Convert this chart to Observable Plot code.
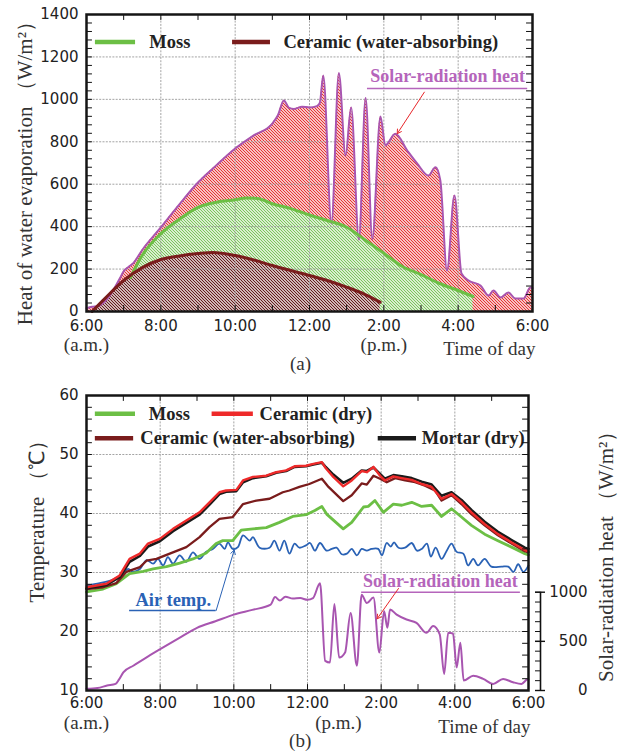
<!DOCTYPE html>
<html><head><meta charset="utf-8">
<script src="https://cdn.jsdelivr.net/npm/d3@7"></script>
<script src="https://cdn.jsdelivr.net/npm/@observablehq/plot@0.6"></script>
<style>
body{margin:0;background:#fff;}
#wrap{width:619px;}
#wrap svg{display:block;}
</style></head><body><div id="wrap"></div>
<script>
// ---------- shared axis labels (hours after 6:00 a.m.) ----------
const xTicks = [0, 2, 4, 6, 8, 10, 12];
const xTickLabels = ["6:00", "8:00", "10:00", "12:00", "2:00", "4:00", "6:00"];
const hourTicks = [0,1,2,3,4,5,6,7,8,9,10,11,12];

// ---------- panel (a): heat of water evaporation, W/m2 ----------
const yTicksA = [0, 200, 400, 600, 800, 1000, 1200, 1400];
const solarA = [[0,15],[0.15,22],[0.3,25],[0.45,40],[0.7,95],[0.91,160],[1.0,190],[1.13,210],[1.26,228],[1.5,290],[2.0,396],[2.5,505],[3.0,608],[3.5,690],[4.0,768],[4.5,830],[5.0,886],[5.15,925],[5.31,995],[5.45,960],[5.58,955],[5.8,965],[6.0,962],[6.2,968],[6.28,985],[6.37,1113],[6.59,415],[6.79,1124],[6.97,735],[7.12,962],[7.33,339],[7.51,1006],[7.69,342],[7.91,919],[8.04,783],[8.31,838],[8.63,759],[8.90,697],[9.20,641],[9.39,680],[9.52,618],[9.70,193],[9.90,547],[10.09,179],[10.28,146],[10.60,123],[10.82,75],[10.95,99],[11.14,66],[11.35,90],[11.54,61],[11.76,61],[11.94,113],[12,110]];
const mossA = [[1.18,160],[1.5,265],[2.0,367],[2.5,435],[3.0,491],[3.5,515],[4.0,527],[4.3,535],[4.6,533],[5.0,508],[5.5,485],[6.0,455],[6.5,428],[7.0,397],[7.5,337],[8.0,275],[8.5,212],[9.0,174],[9.5,132],[10.0,99],[10.4,71]];
const ceramicWetA = [[0.15,0],[0.5,62],[1.0,146],[1.5,207],[2.0,245],[2.5,262],[3.0,273],[3.4,278],[4.0,264],[4.5,243],[5.0,217],[5.5,193],[6.0,170],[6.5,145],[7.0,115],[7.5,80],[7.9,44]];

// ---------- panel (b): temperatures (°C) and solar-radiation heat (W/m2) ----------
const yTicksB = [10, 20, 30, 40, 50, 60];
const solarTicksB = [0, 500, 1000];
const solarMinorB = [0,100,200,300,400,500,600,700,800,900,1000];
const mossB = [[0,26.7],[0.45,27.2],[0.81,28.1],[1.17,29.8],[1.54,30.2],[1.81,30.6],[2.17,31.0],[2.53,31.6],[2.89,32.3],[3.25,33.3],[3.52,34.9],[3.70,35.4],[3.97,35.4],[4.20,37.2],[4.52,37.4],[4.88,37.6],[5.24,38.5],[5.60,39.5],[5.96,39.8],[6.20,40.5],[6.39,41.2],[6.52,39.9],[6.97,37.4],[7.20,38.5],[7.52,41.1],[7.65,41.2],[7.83,42.2],[8.06,40.2],[8.33,41.6],[8.56,41.4],[8.83,41.9],[9.10,41.2],[9.37,41.4],[9.64,39.5],[9.91,40.8],[10.18,39.4],[10.45,38.0],[10.81,36.5],[11.17,35.4],[11.54,34.3],[11.90,33.2],[12,33.0]];
const ceramicDryB = [[0,27.5],[0.54,28.1],[0.9,29.5],[1.17,32.3],[1.45,33.2],[1.67,34.9],[1.99,35.7],[2.35,37.4],[2.71,38.8],[3.07,40.2],[3.34,41.9],[3.61,43.6],[3.79,43.9],[4.07,44.0],[4.25,45.6],[4.52,46.2],[4.88,46.4],[5.15,47.0],[5.42,47.3],[5.65,48.0],[5.96,48.1],[6.16,48.4],[6.39,48.7],[6.48,47.8],[6.70,46.2],[6.97,44.6],[7.20,45.6],[7.47,47.2],[7.61,47.0],[7.79,47.9],[7.97,46.4],[8.10,45.6],[8.33,46.3],[8.56,46.0],[8.83,45.7],[9.10,45.0],[9.37,44.5],[9.64,42.5],[9.91,43.3],[10.18,41.9],[10.45,40.2],[10.81,38.2],[11.17,36.5],[11.54,35.1],[11.90,33.8],[12,33.6]];
const mortarDryB = [[0,27.3],[0.54,27.9],[0.9,29.2],[1.17,31.8],[1.45,32.8],[1.67,34.4],[1.99,35.3],[2.35,37.0],[2.71,38.4],[3.07,39.8],[3.34,41.5],[3.61,43.3],[3.79,43.7],[4.07,43.8],[4.25,45.3],[4.52,46.0],[4.88,46.3],[5.15,46.9],[5.42,47.2],[5.65,47.9],[5.96,48.0],[6.16,48.3],[6.39,48.6],[6.48,48.0],[6.70,46.6],[6.97,45.2],[7.20,45.9],[7.47,47.3],[7.61,47.2],[7.79,47.8],[7.97,46.7],[8.10,45.9],[8.33,46.5],[8.56,46.3],[8.83,46.0],[9.10,45.4],[9.37,44.9],[9.64,43.0],[9.91,43.6],[10.18,42.3],[10.45,40.6],[10.81,38.6],[11.17,36.9],[11.54,35.5],[11.90,34.2],[12,34.0]];
const ceramicWetB = [[0,27.2],[0.45,27.5],[0.81,28.2],[1.08,30.1],[1.45,30.9],[1.63,32.0],[1.9,32.3],[2.26,33.2],[2.71,34.3],[3.07,36.0],[3.34,37.7],[3.61,39.1],[3.97,39.4],[4.25,41.6],[4.61,42.2],[4.97,42.5],[5.33,43.6],[5.51,43.9],[5.78,44.5],[6.05,45.0],[6.39,45.9],[6.57,44.5],[6.97,42.1],[7.20,43.1],[7.47,45.1],[7.61,44.9],[7.79,46.4],[7.97,45.9],[8.15,45.3],[8.38,46.0],[8.65,45.6],[8.92,45.3],[9.19,44.7],[9.46,43.9],[9.64,42.2],[9.91,43.1],[10.18,41.6],[10.45,39.9],[10.81,38.0],[11.17,36.3],[11.54,34.9],[11.90,33.6],[12,33.4]];
const airB = [[0,27.8],[0.36,28.2],[0.72,28.8],[0.99,29.8],[1.13,30.6],[1.26,30.1],[1.45,30.6],[1.63,32.1],[1.81,31.5],[1.94,32.3],[2.08,31.2],[2.21,32.6],[2.35,31.5],[2.53,32.9],[2.71,31.8],[2.89,33.4],[3.07,32.3],[3.25,33.5],[3.43,34.0],[3.61,34.9],[3.75,34.0],[3.84,35.1],[3.97,34.0],[4.11,34.3],[4.25,36.3],[4.43,35.4],[4.52,36.0],[4.70,34.2],[4.97,34.2],[5.10,35.4],[5.24,33.7],[5.37,35.4],[5.51,33.2],[5.65,34.9],[5.78,34.2],[5.96,34.6],[6.07,35.0],[6.20,33.7],[6.34,35.0],[6.52,33.7],[6.66,34.0],[6.79,34.2],[6.93,33.1],[7.07,33.2],[7.20,34.0],[7.34,32.9],[7.47,34.0],[7.61,33.7],[7.74,34.0],[7.92,34.0],[8.02,32.9],[8.15,35.0],[8.26,34.4],[8.35,35.1],[8.47,34.2],[8.65,34.2],[8.83,35.0],[8.97,33.7],[9.10,34.0],[9.24,34.9],[9.35,32.7],[9.48,34.2],[9.64,32.3],[9.78,33.7],[9.91,34.9],[10.05,33.5],[10.23,33.2],[10.36,31.2],[10.50,32.3],[10.63,31.2],[10.81,32.3],[10.99,31.0],[11.27,31.0],[11.45,31.0],[11.59,30.1],[11.72,31.4],[11.86,30.1],[12,31.2]];
const solarB = [[0,17],[0.3,25],[0.56,50],[0.79,67],[0.88,110],[1.0,184],[1.27,252],[1.6,330],[2.0,420],[2.5,530],[3.0,638],[3.5,705],[4.0,772],[4.5,820],[5.0,873],[5.12,950],[5.25,915],[5.4,955],[5.6,935],[5.8,940],[6.0,923],[6.15,940],[6.34,1090],[6.48,302],[6.61,285],[6.73,879],[6.86,335],[7.02,386],[7.17,789],[7.34,252],[7.47,974],[7.61,889],[7.79,947],[7.95,386],[8.08,806],[8.17,638],[8.24,823],[8.42,772],[8.69,722],[8.96,688],[9.23,587],[9.41,655],[9.59,571],[9.71,168],[9.82,587],[9.95,580],[10.05,235],[10.15,486],[10.24,101],[10.50,151],[10.77,118],[11.04,67],[11.31,118],[11.58,84],[11.81,67],[11.97,111],[12,111]];

// ---------- styling ----------
const serif = "'Liberation Serif', 'Times New Roman', serif";
const sans = "'DejaVu Sans', sans-serif";
const C = {moss:"#6cbf45", wet:"#7a1c1c", dry:"#ee2a2a", mortar:"#1a1a1a", air:"#2a62b5", solar:"#a855b0", solarText:"#b565bb", gridc:"#9a9a9a", ink:"#222"};
const pt = a => ({h: a[0], v: a[1]});
const grid = {stroke: C.gridc, strokeWidth: 0.9, strokeDasharray: "2,1.3"};
const lab = {fontFamily: serif, fontSize: 19, fill: "#333", textAnchor: "middle", lineAnchor: "middle"};
const ylab = {...lab, fontSize: 21};
const leg = {fontFamily: serif, fontSize: 18.5, fontWeight: "bold", fill: C.ink, textAnchor: "start", lineAnchor: "middle"};
const wrap = document.getElementById("wrap");

// ================= PANEL A =================
const tA = 28; // tick length in W/m2 (~6px)
const tX = 0.16; // tick length in hours (~6px)
const minorA = d3.range(40, 1400, 40);
const plotA = Plot.plot({
  width: 619, height: 375,
  marginLeft: 86, marginRight: 87, marginTop: 14, marginBottom: 64,
  style: {fontFamily: sans, fontSize: "15px", color: C.ink, background: "white"},
  x: {domain: [0, 12], ticks: xTicks, tickFormat: d => xTickLabels[xTicks.indexOf(d)], tickSize: 0, tickPadding: 9, label: null},
  y: {domain: [0, 1400], ticks: yTicksA, tickFormat: d => String(d), tickSize: 0, tickPadding: 8, label: null},
  marks: [
    Plot.areaY(solarA.map(pt), {x: "h", y: "v", fill: "url(#hatchRed)", curve: "monotone-x"}),
    Plot.areaY(mossA.map(pt), {x: "h", y: "v", fill: "url(#hatchGreen)", curve: "monotone-x"}),
    Plot.areaY(ceramicWetA.map(pt), {x: "h", y: "v", fill: "url(#hatchDark)", curve: "monotone-x"}),
    Plot.ruleX([2,4,6,8,10], grid),
    Plot.ruleY([200,400,600,800,1000,1200], grid),
    Plot.line(solarA.map(pt), {x: "h", y: "v", stroke: C.solar, strokeWidth: 2, curve: "monotone-x"}),
    Plot.line(mossA.map(pt), {x: "h", y: "v", stroke: C.moss, strokeWidth: 3, curve: "monotone-x"}),
    Plot.line(ceramicWetA.map(pt), {x: "h", y: "v", stroke: C.wet, strokeWidth: 3, curve: "monotone-x"}),
    // legend
    Plot.ruleY([1270], {x1: 0.24, x2: 1.32, stroke: C.moss, strokeWidth: 4.5}),
    Plot.text(["Moss"], {x: 1.69, y: 1272, text: d => d, ...leg}),
    Plot.ruleY([1270], {x1: 3.93, x2: 4.95, stroke: C.wet, strokeWidth: 4.5}),
    Plot.text(["Ceramic (water-absorbing)"], {x: 5.30, y: 1272, text: d => d, ...leg}),
    // solar annotation
    Plot.text(["Solar-radiation heat"], {x: 11.80, y: 1108, text: d => d, ...leg, fill: C.solarText, textAnchor: "end", fontSize: 18}),
    Plot.ruleY([1051], {x1: 7.56, x2: 11.87, stroke: C.solarText, strokeWidth: 1.5}),
    Plot.arrow([0], {x1: 9.09, y1: 1034, x2: 8.36, y2: 838, stroke: "#e8262a", strokeWidth: 1, headLength: 7}),
    // inner ticks
    Plot.ruleY(minorA, {x1: 0, x2: tX, stroke: "#111", strokeWidth: 1}),
    Plot.ruleY(minorA, {x1: 12 - tX, x2: 12, stroke: "#111", strokeWidth: 1}),
    Plot.ruleX(hourTicks, {y1: 1400 - tA, y2: 1400, stroke: "#111", strokeWidth: 1}),
    Plot.ruleX(hourTicks, {y1: 0, y2: tA, stroke: "#111", strokeWidth: 1}),
    Plot.frame({stroke: "#151515", strokeWidth: 2.5}),
    // axis texts
    Plot.text(["Heat of water evaporation （W/m²）"], {frameAnchor: "left", y: 676, dx: -61, rotate: -90, text: d => d, ...ylab}),
    Plot.text(["(a.m.)"], {x: 0, frameAnchor: "bottom", dy: 33, text: d => d, ...lab}),
    Plot.text(["(p.m.)"], {x: 8.0, frameAnchor: "bottom", dy: 33, text: d => d, ...lab}),
    Plot.text(["Time of day"], {x: 12, frameAnchor: "bottom", dx: 3, dy: 37, text: d => d, ...lab, textAnchor: "end"}),
    Plot.text(["(a)"], {x: 5.76, frameAnchor: "bottom", dy: 52, text: d => d, ...lab})
  ]
});
const defs = d3.select(plotA).insert("defs", ":first-child");
function hatch(id, color, w) {
  const p = defs.append("pattern").attr("id", id).attr("patternUnits", "userSpaceOnUse").attr("width", 3).attr("height", 3);
  p.append("rect").attr("width", 3).attr("height", 3).attr("fill", "white");
  p.append("path").attr("d", "M-1,-1L4,4M-1,2L1,4M2,-1L4,1").attr("stroke", color).attr("stroke-width", w).attr("fill", "none");
}
hatch("hatchRed", "#e52a2a", 1.1);
hatch("hatchGreen", "#74c252", 1.05);
hatch("hatchDark", "#5e1212", 1.15);
wrap.appendChild(plotA);

// ================= PANEL B =================
const solarToT = s => 10 + s * 0.01666;
const tB = 1.0; // tick length in °C (~6px)
const minorB = d3.range(12, 60, 2);
const tickR = 12 / 442;
const plotB = Plot.plot({
  width: 619, height: 376,
  marginLeft: 86, marginRight: 91, marginTop: 20, marginBottom: 61,
  style: {fontFamily: sans, fontSize: "15px", color: C.ink, background: "white"},
  x: {domain: [0, 12], ticks: xTicks, tickFormat: d => xTickLabels[xTicks.indexOf(d)], tickSize: 0, tickPadding: 7, label: null},
  y: {domain: [10, 60], ticks: yTicksB, tickFormat: d => String(d), tickSize: 0, tickPadding: 8, label: null},
  marks: [
    Plot.ruleX([2,4,6,8,10], grid),
    Plot.ruleY([20,30,40,50], grid),
    Plot.line(solarB.map(pt), {x: "h", y: d => solarToT(d.v), stroke: C.solar, strokeWidth: 2, curve: "monotone-x"}),
    Plot.line(airB.map(pt), {x: "h", y: "v", stroke: C.air, strokeWidth: 1.8, curve: "catmull-rom"}),
    Plot.line(mossB.map(pt), {x: "h", y: "v", stroke: C.moss, strokeWidth: 2.8}),
    Plot.line(ceramicWetB.map(pt), {x: "h", y: "v", stroke: C.wet, strokeWidth: 2.3}),
    Plot.line(mortarDryB.map(pt), {x: "h", y: "v", stroke: C.mortar, strokeWidth: 2.6}),
    Plot.line(ceramicDryB.map(pt), {x: "h", y: "v", stroke: C.dry, strokeWidth: 2.4}),
    // legend
    Plot.ruleY([56.9], {x1: 0.24, x2: 1.33, stroke: C.moss, strokeWidth: 4.5}),
    Plot.text(["Moss"], {x: 1.69, y: 56.9, text: d => d, ...leg}),
    Plot.ruleY([56.9], {x1: 3.41, x2: 4.53, stroke: C.dry, strokeWidth: 4.5}),
    Plot.text(["Ceramic (dry)"], {x: 4.70, y: 56.9, text: d => d, ...leg}),
    Plot.ruleY([52.75], {x1: 0.24, x2: 1.28, stroke: C.wet, strokeWidth: 4.5}),
    Plot.text(["Ceramic (water-absorbing)"], {x: 1.46, y: 52.75, text: d => d, ...leg}),
    Plot.ruleY([52.75], {x1: 7.92, x2: 8.96, stroke: C.mortar, strokeWidth: 4.5}),
    Plot.text(["Mortar (dry)"], {x: 9.10, y: 52.75, text: d => d, ...leg}),
    // air temp annotation
    Plot.text(["Air temp."], {x: 1.33, y: 25.25, text: d => d, ...leg, fill: C.air}),
    Plot.ruleY([23.56], {x1: 1.17, x2: 3.52, stroke: C.air, strokeWidth: 1.3}),
    Plot.arrow([0], {x1: 3.52, y1: 23.56, x2: 4.01, y2: 33.8, stroke: C.air, strokeWidth: 1, headLength: 7}),
    // solar annotation
    Plot.text(["Solar-radiation heat"], {x: 11.71, y: 28.47, text: d => d, ...leg, fill: C.solarText, textAnchor: "end", fontSize: 18}),
    Plot.ruleY([26.66], {x1: 7.47, x2: 11.78, stroke: C.solarText, strokeWidth: 1.5}),
    Plot.arrow([0], {x1: 8.47, y1: 27.29, x2: 7.89, y2: 22.15, stroke: "#e8262a", strokeWidth: 1, headLength: 7}),
    // inner ticks
    Plot.ruleY(minorB, {x1: 0, x2: tX, stroke: "#111", strokeWidth: 1}),
    Plot.ruleY(minorB, {x1: 12 - tX, x2: 12, stroke: "#111", strokeWidth: 1}),
    Plot.ruleX(hourTicks, {y1: 60 - tB, y2: 60, stroke: "#111", strokeWidth: 1}),
    Plot.ruleX(hourTicks, {y1: 10, y2: 10 + tB, stroke: "#111", strokeWidth: 1}),
    Plot.frame({stroke: "#151515", strokeWidth: 2.5}),
    // secondary solar axis
    Plot.ruleX([12], {y1: solarToT(0), y2: solarToT(1000), dx: 12, stroke: "#111", strokeWidth: 1.6}),
    Plot.ruleY(solarMinorB.map(solarToT), {x1: 12, x2: 12 + 5 * tickR, dx: 7, stroke: "#111", strokeWidth: 1}),
    Plot.ruleY(solarTicksB.map(solarToT), {x1: 12, x2: 12 + 10 * tickR, dx: 7, stroke: "#111", strokeWidth: 1.4}),
    Plot.text(solarTicksB, {x: 12, y: solarToT, dx: 59, text: d => String(d), textAnchor: "end", fontFamily: sans, fontSize: 15, fill: C.ink}),
    // axis texts
    Plot.text(["Temperature （℃）"], {frameAnchor: "left", y: 39.5, dx: -49, rotate: -90, text: d => d, ...ylab}),
    Plot.text(["Solar-radiation heat （W/m²）"], {frameAnchor: "right", y: 33.6, dx: 78, rotate: -90, text: d => d, ...ylab}),
    Plot.text(["(a.m.)"], {x: 0, frameAnchor: "bottom", dy: 32, text: d => d, ...lab}),
    Plot.text(["(p.m.)"], {x: 6.84, frameAnchor: "bottom", dy: 32, text: d => d, ...lab}),
    Plot.text(["Time of day"], {x: 12, frameAnchor: "bottom", dx: 2, dy: 36, text: d => d, ...lab, textAnchor: "end"}),
    Plot.text(["(b)"], {x: 5.8, frameAnchor: "bottom", dy: 50, text: d => d, ...lab})
  ]
});
wrap.appendChild(plotB);
</script></body></html>
